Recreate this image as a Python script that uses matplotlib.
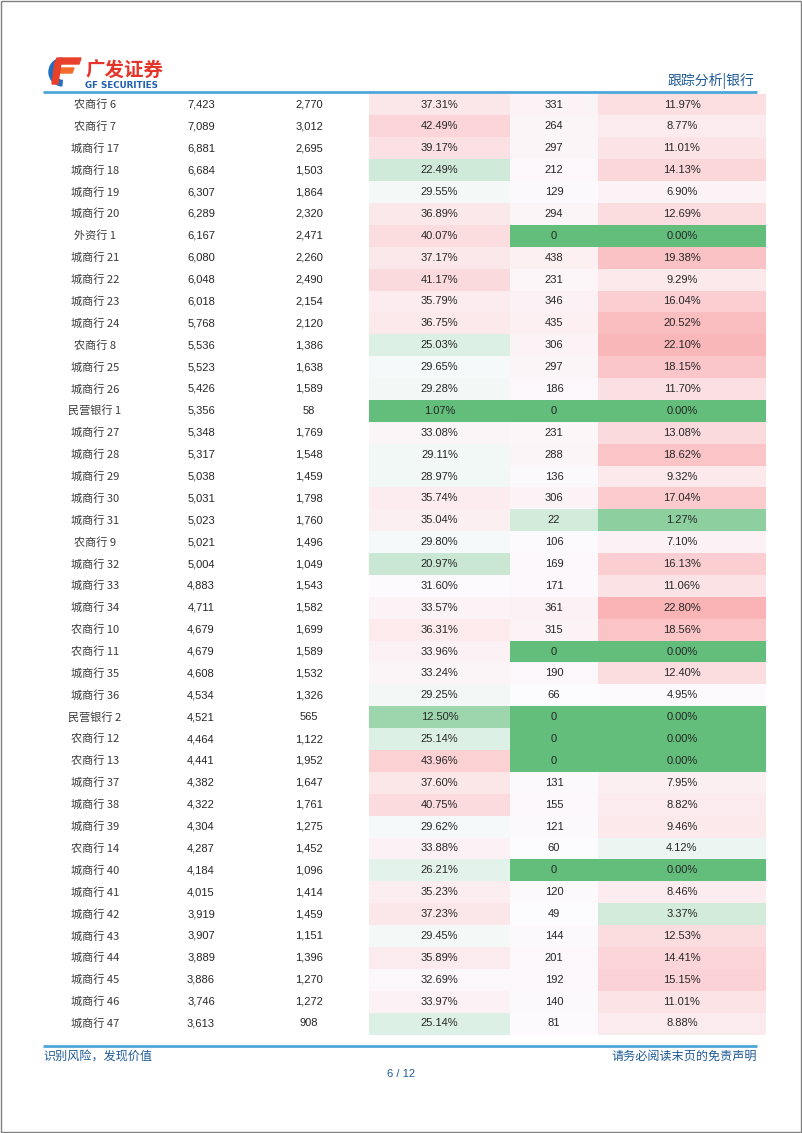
"""广发证券 银行跟踪报告 表格页复刻"""
import matplotlib
matplotlib.use("Agg")
import matplotlib.pyplot as plt
from matplotlib.colors import LinearSegmentedColormap, TwoSlopeNorm
from matplotlib.patches import Rectangle, Polygon, Wedge

plt.rcParams["font.family"] = ["Noto Sans CJK SC", "DejaVu Sans"]

# ── 表格数据 ──
names = [
    "农商行 6", "农商行 7", "城商行 17", "城商行 18", "城商行 19", "城商行 20",
    "外资行 1", "城商行 21", "城商行 22", "城商行 23", "城商行 24", "农商行 8",
    "城商行 25", "城商行 26", "民营银行 1", "城商行 27", "城商行 28", "城商行 29",
    "城商行 30", "城商行 31", "农商行 9", "城商行 32", "城商行 33", "城商行 34",
    "农商行 10", "农商行 11", "城商行 35", "城商行 36", "民营银行 2", "农商行 12",
    "农商行 13", "城商行 37", "城商行 38", "城商行 39", "农商行 14", "城商行 40",
    "城商行 41", "城商行 42", "城商行 43", "城商行 44", "城商行 45", "城商行 46",
    "城商行 47",
]
total_vals = [
    7423, 7089, 6881, 6684, 6307, 6289, 6167, 6080, 6048, 6018, 5768, 5536,
    5523, 5426, 5356, 5348, 5317, 5038, 5031, 5023, 5021, 5004, 4883, 4711,
    4679, 4679, 4608, 4534, 4521, 4464, 4441, 4382, 4322, 4304, 4287, 4184,
    4015, 3919, 3907, 3889, 3886, 3746, 3613,
]
part_vals = [
    2770, 3012, 2695, 1503, 1864, 2320, 2471, 2260, 2490, 2154, 2120, 1386,
    1638, 1589, 58, 1769, 1548, 1459, 1798, 1760, 1496, 1049, 1543, 1582,
    1699, 1589, 1532, 1326, 565, 1122, 1952, 1647, 1761, 1275, 1452, 1096,
    1414, 1459, 1151, 1396, 1270, 1272, 908,
]
part_ratio = [
    37.31, 42.49, 39.17, 22.49, 29.55, 36.89, 40.07, 37.17, 41.17, 35.79, 36.75, 25.03,
    29.65, 29.28, 1.07, 33.08, 29.11, 28.97, 35.74, 35.04, 29.80, 20.97, 31.60, 33.57,
    36.31, 33.96, 33.24, 29.25, 12.50, 25.14, 43.96, 37.60, 40.75, 29.62, 33.88, 26.21,
    35.23, 37.23, 29.45, 35.89, 32.69, 33.97, 25.14,
]
sub_vals = [
    331, 264, 297, 212, 129, 294, 0, 438, 231, 346, 435, 306,
    297, 186, 0, 231, 288, 136, 306, 22, 106, 169, 171, 361,
    315, 0, 190, 66, 0, 0, 0, 131, 155, 121, 60, 0,
    120, 49, 144, 201, 192, 140, 81,
]
sub_ratio = [
    11.97, 8.77, 11.01, 14.13, 6.90, 12.69, 0.00, 19.38, 9.29, 16.04, 20.52, 22.10,
    18.15, 11.70, 0.00, 13.08, 18.62, 9.32, 17.04, 1.27, 7.10, 16.13, 11.06, 22.80,
    18.56, 0.00, 12.40, 4.95, 0.00, 0.00, 0.00, 7.95, 8.82, 9.46, 4.12, 0.00,
    8.46, 3.37, 12.53, 14.41, 15.15, 11.01, 8.88,
]

# ── 样式 ──
W, H = 802, 1133
BLUE_LINE = "#4DA6DC"
BLUE_TEXT = "#1F5A96"
TXT = "#262626"
NUM_FONT = ["Liberation Sans", "DejaVu Sans"]

# Excel 三色刻度: 绿-白-红
cmap = LinearSegmentedColormap.from_list("gwr", ["#63BE7B", "#FCFCFF", "#F8696B"])
norm_ratio = TwoSlopeNorm(vmin=1.07, vcenter=31.0, vmax=75.0)
norm_sub = TwoSlopeNorm(vmin=0, vcenter=30, vmax=5000)
norm_sub_ratio = TwoSlopeNorm(vmin=0, vcenter=4.6, vmax=42.0)

fig = plt.figure(figsize=(W / 100, H / 100), dpi=100)
ax = fig.add_axes([0, 0, 1, 1])
ax.set_xlim(0, W)
ax.set_ylim(H, 0)
ax.axis("off")

# 页面边框
ax.add_patch(Rectangle((0.5, 0.5), W - 1.5, H - 2, fill=False, edgecolor="#808080", lw=1))

# ═══════════════════════════════════════════
# 页眉: logo + 标题
# ═══════════════════════════════════════════
ax.add_patch(Wedge((63, 72), 14, 95, 265, width=5.5, color="#1F6FC0"))
ax.add_patch(Polygon([(57, 58), (81, 58), (79, 64), (55, 64)], color="#E8402A"))
ax.add_patch(Polygon([(56, 68), (74, 68), (72, 73), (54, 73)], color="#F26B2A"))
ax.add_patch(Polygon([(55, 62), (61, 62), (58, 84), (52, 84)], color="#E8402A"))
ax.text(85, 71.5, "广发证券", fontsize=14, fontweight="bold", color="#E5352B",
        ha="left", va="center")
ax.text(85, 85, "GF SECURITIES", fontsize=6.3, fontweight="bold", color="#1F5FAF",
        ha="left", va="center", family="DejaVu Sans")
ax.text(754, 81, "跟踪分析|银行", fontsize=10, color=BLUE_TEXT, ha="right", va="center")
ax.plot([43, 757], [92, 92], color=BLUE_LINE, lw=2, solid_capstyle="butt")

# ═══════════════════════════════════════════
# 表格
# ═══════════════════════════════════════════
row_top = 93.6
row_h = 21.88
cols_x = [95, 201, 309]  # 名称, 数值1, 数值2 (文字中心)
heat_cols = [(369, 510), (510, 598), (598, 766)]

for i, name in enumerate(names):
    y0 = row_top + i * row_h
    yc = y0 + row_h / 2
    ax.text(cols_x[0], yc, name, fontsize=8, color="#3a3a3a", fontweight="light",
            ha="center", va="center")
    ax.text(cols_x[1], yc, f"{total_vals[i]:,}", fontsize=8, color=TXT,
            ha="center", va="center", family=NUM_FONT)
    ax.text(cols_x[2], yc, f"{part_vals[i]:,}", fontsize=8, color=TXT,
            ha="center", va="center", family=NUM_FONT)

    cells = [
        (cmap(norm_ratio(part_ratio[i])), f"{part_ratio[i]:.2f}%"),
        (cmap(norm_sub(sub_vals[i])), f"{sub_vals[i]:,}"),
        (cmap(norm_sub_ratio(sub_ratio[i])), f"{sub_ratio[i]:.2f}%"),
    ]
    for (x0, x1), (fc, label) in zip(heat_cols, cells):
        ax.add_patch(Rectangle((x0, y0), x1 - x0, row_h + 0.3, facecolor=fc,
                               edgecolor="none"))
        ax.text((x0 + x1) / 2, yc, label, fontsize=8, color=TXT,
                ha="center", va="center", family=NUM_FONT)

# ═══════════════════════════════════════════
# 页脚
# ═══════════════════════════════════════════
ax.plot([43, 757], [1045.5, 1045.5], color=BLUE_LINE, lw=2, solid_capstyle="butt")
ax.text(43, 1056, "识别风险，发现价值", fontsize=8.7, color=BLUE_TEXT,
        ha="left", va="center")
ax.text(757, 1056, "请务必阅读末页的免责声明", fontsize=8.7, color=BLUE_TEXT,
        ha="right", va="center")
ax.text(401, 1074, "6 / 12", fontsize=8, color=BLUE_TEXT, ha="center", va="center",
        family=NUM_FONT)

fig.savefig("out.png", dpi=100)
plt.close(fig)
